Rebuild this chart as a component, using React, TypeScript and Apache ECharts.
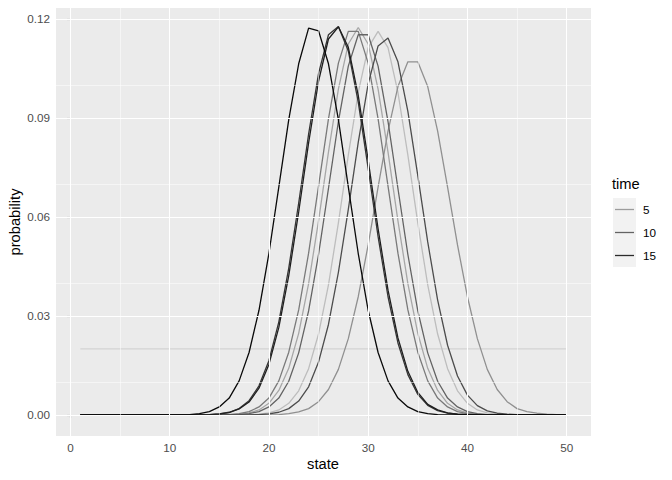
import React, { useEffect, useRef } from "react";
import * as echarts from "echarts";

const states = [
  1, 2, 3, 4, 5, 6, 7, 8, 9, 10, 11, 12, 13, 14, 15, 16, 17, 18, 19, 20, 21, 22, 23, 24, 25,
  26, 27, 28, 29, 30, 31, 32, 33, 34, 35, 36, 37, 38, 39, 40, 41, 42, 43, 44, 45, 46, 47, 48, 49, 50,
];

const times = [0, 2, 4, 6, 8, 10, 12, 14, 16, 18];

const probT0 = [
  0.02, 0.02, 0.02, 0.02, 0.02, 0.02, 0.02, 0.02, 0.02, 0.02, 0.02, 0.02, 0.02, 0.02, 0.02, 0.02, 0.02,
  0.02, 0.02, 0.02, 0.02, 0.02, 0.02, 0.02, 0.02, 0.02, 0.02, 0.02, 0.02, 0.02, 0.02, 0.02, 0.02, 0.02,
  0.02, 0.02, 0.02, 0.02, 0.02, 0.02, 0.02, 0.02, 0.02, 0.02, 0.02, 0.02, 0.02, 0.02, 0.02, 0.02,
];
const probT2 = [
  0, 0, 0, 0, 0, 0, 0, 0, 0, 0, 0, 0, 0, 0, 0, 0, 0,
  0.0001, 0.0002, 0.0006, 0.0015, 0.0035, 0.0073, 0.014, 0.0245, 0.0394, 0.0582, 0.0787, 0.0977, 0.1113,
  0.1162, 0.1113, 0.0977, 0.0787, 0.0582, 0.0394, 0.0245, 0.014, 0.0073, 0.0035, 0.0015, 0.0006, 0.0002,
  0.0001, 0, 0, 0, 0, 0, 0,
];
const probT4 = [
  0, 0, 0, 0, 0, 0, 0, 0, 0, 0, 0, 0, 0, 0, 0,
  0.0001, 0.0002, 0.0006, 0.0015, 0.0035, 0.0074, 0.0141, 0.0247, 0.0398, 0.0588, 0.0796, 0.0987, 0.1124,
  0.1174, 0.1124, 0.0987, 0.0796, 0.0588, 0.0398, 0.0247, 0.0141, 0.0074, 0.0035, 0.0015, 0.0006, 0.0002,
  0.0001, 0, 0, 0, 0, 0, 0, 0, 0,
];
const probT6 = [
  0, 0, 0, 0, 0, 0, 0, 0, 0, 0, 0, 0, 0, 0, 0, 0, 0, 0, 0, 0,
  0.0001, 0.0004, 0.0009, 0.0019, 0.004, 0.0077, 0.0138, 0.0231, 0.0358, 0.0515, 0.069, 0.086, 0.0995,
  0.107, 0.107, 0.0995, 0.086, 0.069, 0.0515, 0.0358, 0.0231, 0.0138, 0.0077, 0.004, 0.0019, 0.001,
  0.0005, 0.0002, 0.0001, 0,
];
const probT8 = [
  0, 0, 0, 0, 0, 0, 0, 0, 0, 0, 0, 0, 0, 0, 0,
  0.0001, 0.0004, 0.001, 0.0024, 0.0051, 0.0103, 0.019, 0.0318, 0.049, 0.0693, 0.0897, 0.1066, 0.1162,
  0.1162, 0.1066, 0.0897, 0.0693, 0.049, 0.0318, 0.019, 0.0103, 0.0051, 0.0024, 0.001, 0.0004, 0.0001,
  0, 0, 0, 0, 0, 0, 0, 0, 0,
];
const probT10 = [
  0, 0, 0, 0, 0, 0, 0, 0, 0, 0, 0, 0, 0, 0, 0, 0,
  0.0001, 0.0004, 0.001, 0.0024, 0.0051, 0.0102, 0.0188, 0.0315, 0.0486, 0.0686, 0.0889, 0.1057, 0.1152,
  0.1152, 0.1057, 0.0889, 0.0686, 0.0486, 0.0315, 0.0188, 0.0102, 0.0051, 0.0024, 0.001, 0.0004, 0.0001,
  0, 0, 0, 0, 0, 0, 0, 0,
];
const probT12 = [
  0, 0, 0, 0, 0, 0, 0, 0, 0, 0, 0, 0, 0, 0, 0, 0, 0, 0,
  0.0001, 0.0003, 0.0008, 0.0019, 0.0042, 0.0085, 0.016, 0.0274, 0.0432, 0.0623, 0.0826, 0.1003, 0.1118,
  0.1142, 0.107, 0.092, 0.0725, 0.0524, 0.0348, 0.0211, 0.0118, 0.006, 0.0028, 0.0012, 0.0005, 0.0002,
  0.0001, 0, 0, 0, 0, 0,
];
const probT14 = [
  0, 0, 0, 0, 0, 0, 0, 0, 0, 0, 0, 0, 0,
  0.0001, 0.0003, 0.0008, 0.0019, 0.0043, 0.0088, 0.0164, 0.0282, 0.0445, 0.0642, 0.0851, 0.1034, 0.1152,
  0.1177, 0.1103, 0.0948, 0.0747, 0.054, 0.0358, 0.0218, 0.0122, 0.0062, 0.0029, 0.0013, 0.0005, 0.0002,
  0.0001, 0, 0, 0, 0, 0, 0, 0, 0, 0, 0,
];
const probT16 = [
  0, 0, 0, 0, 0, 0, 0, 0, 0, 0, 0, 0, 0,
  0.0001, 0.0003, 0.0007, 0.0018, 0.0039, 0.0081, 0.0153, 0.0265, 0.0422, 0.0615, 0.0824, 0.1011, 0.1139,
  0.1176, 0.1114, 0.0968, 0.0772, 0.0564, 0.0378, 0.0233, 0.0132, 0.0068, 0.0032, 0.0015, 0.0006, 0.0002,
  0.0001, 0, 0, 0, 0, 0, 0, 0, 0, 0, 0,
];
const probT18 = [
  0, 0, 0, 0, 0, 0, 0, 0, 0, 0, 0,
  0.0001, 0.0004, 0.001, 0.0024, 0.0051, 0.0103, 0.0189, 0.0317, 0.0489, 0.0691, 0.0895, 0.1064, 0.1172,
  0.1164, 0.1064, 0.0895, 0.0691, 0.0489, 0.0317, 0.0189, 0.0103, 0.0051, 0.0024, 0.001, 0.0004, 0.0001,
  0, 0, 0, 0, 0, 0, 0, 0, 0, 0, 0, 0, 0,
];

const seriesValues = [probT0, probT2, probT4, probT6, probT8, probT10, probT12, probT14, probT16, probT18];

const xTicks = [0, 10, 20, 30, 40, 50];
const xMinor = [5, 15, 25, 35, 45];
const yTicks = [0, 0.03, 0.06, 0.09, 0.12];
const yMinor = [0.015, 0.045, 0.075, 0.105];
const legendTimes = [5, 10, 15];

const FONT = "'Liberation Sans', Arial, Helvetica, sans-serif";
const LINE_W = 1.3;

function grey(t: number): string {
  const g = Math.max(0, Math.min(255, Math.round(212 - t * 11.3)));
  const h = g.toString(16).padStart(2, "0");
  return "#" + h + h + h;
}

export default function App() {
  const ref = useRef<HTMLDivElement>(null);

  useEffect(() => {
    if (!ref.current) return;
    const chart = echarts.init(ref.current, undefined, { renderer: "svg" });

    const gridLines: any[] = [];
    xMinor.forEach((v) => gridLines.push({ xAxis: v, lineStyle: { color: "#ffffff", width: 0.53, type: "solid" } }));
    yMinor.forEach((v) => gridLines.push({ yAxis: v, lineStyle: { color: "#ffffff", width: 0.53, type: "solid" } }));
    xTicks.forEach((v) => gridLines.push({ xAxis: v, lineStyle: { color: "#ffffff", width: 1.07, type: "solid" } }));
    yTicks.forEach((v) => gridLines.push({ yAxis: v, lineStyle: { color: "#ffffff", width: 1.07, type: "solid" } }));

    const dataSeries = seriesValues.map((vals, k) => ({
      type: "line",
      name: String(times[k]),
      data: states.map((s, i) => [s, vals[i]]),
      showSymbol: false,
      symbol: "none",
      z: 3,
      lineStyle: { color: grey(times[k]), width: k === 0 ? 1.07 : LINE_W },
      silent: true,
    }));

    const legendGraphics: any[] = [
      {
        type: "text",
        x: 612,
        y: 184,
        style: {
          text: "time",
          fontSize: 14.7,
          fontFamily: FONT,
          fill: "#000",
          align: "left",
          textAlign: "left",
          verticalAlign: "middle",
          textVerticalAlign: "middle",
        },
      },
      {
        type: "rect",
        shape: { x: 613, y: 198, width: 23, height: 69 },
        style: { fill: "#F2F2F2" },
      },
    ];
    legendTimes.forEach((t, i) => {
      const cy = 209.5 + 23 * i;
      legendGraphics.push({
        type: "line",
        shape: { x1: 615, y1: cy, x2: 634, y2: cy },
        style: { stroke: grey(t), lineWidth: LINE_W },
      });
      legendGraphics.push({
        type: "text",
        x: 643,
        y: cy,
        style: {
          text: String(t),
          fontSize: 11.7,
          fontFamily: FONT,
          fill: "#000",
          align: "left",
          textAlign: "left",
          verticalAlign: "middle",
          textVerticalAlign: "middle",
        },
      });
    });

    chart.setOption({
      animation: false,
      grid: {
        left: 56,
        right: 81,
        top: 8,
        bottom: 44,
        show: true,
        backgroundColor: "#EBEBEB",
        borderWidth: 0,
      },
      xAxis: {
        type: "value",
        min: -1.45,
        max: 52.45,
        axisLine: { show: false },
        splitLine: { show: false },
        axisTick: { show: true, customValues: xTicks, length: 3.7, lineStyle: { color: "#333333", width: 1.07 } },
        axisLabel: {
          customValues: xTicks,
          color: "#4D4D4D",
          fontSize: 11.7,
          fontFamily: FONT,
          margin: 5,
        },
      },
      yAxis: {
        type: "value",
        min: -0.0064,
        max: 0.1233,
        axisLine: { show: false },
        splitLine: { show: false },
        axisTick: { show: true, customValues: yTicks, length: 3.7, lineStyle: { color: "#333333", width: 1.07 } },
        axisLabel: {
          customValues: yTicks,
          color: "#4D4D4D",
          fontSize: 11.7,
          fontFamily: FONT,
          margin: 6,
          formatter: (v: number) => v.toFixed(2),
        },
      },
      series: [
        {
          type: "line",
          data: [],
          z: 1,
          silent: true,
          markLine: {
            silent: true,
            symbol: ["none", "none"],
            label: { show: false },
            animation: false,
            data: gridLines,
          },
        },
        ...dataSeries,
      ],
      graphic: [
        {
          type: "text",
          x: 323,
          y: 464,
          style: {
            text: "state",
            fontSize: 14.7,
            fontFamily: FONT,
            fill: "#000",
            align: "center",
            textAlign: "center",
            verticalAlign: "middle",
            textVerticalAlign: "middle",
          },
        },
        {
          type: "text",
          x: 15,
          y: 222,
          rotation: Math.PI / 2,
          style: {
            text: "probability",
            fontSize: 14.7,
            fontFamily: FONT,
            fill: "#000",
            align: "center",
            textAlign: "center",
            verticalAlign: "middle",
            textVerticalAlign: "middle",
          },
        },
        ...legendGraphics,
      ],
    });

    return () => chart.dispose();
  }, []);

  return <div ref={ref} style={{ width: 672, height: 480, margin: -8 }} />;
}
